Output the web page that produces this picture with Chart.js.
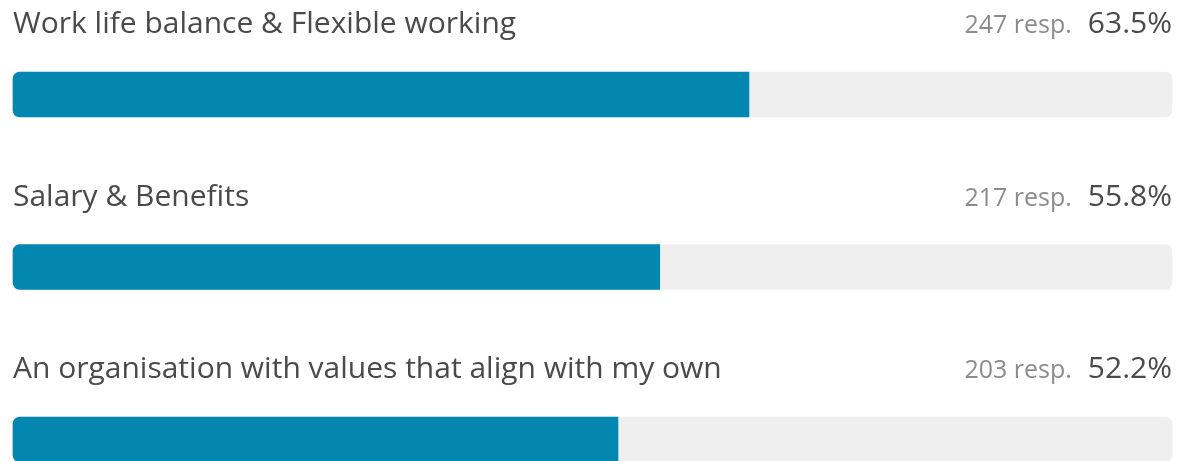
<!DOCTYPE html>
<html>
<head>
<meta charset="utf-8">
<script src="https://cdn.jsdelivr.net/npm/chart.js@4"></script>
<style>
  html, body { margin: 0; padding: 0; background: #fff; overflow: hidden; }
  #wrap { width: 1178px; height: 461px; position: relative; }
</style>
</head>
<body>
<div id="wrap"><canvas id="chart"></canvas></div>
<script>
const categories = [
  "Work life balance & Flexible working",
  "Salary & Benefits",
  "An organisation with values that align with my own",
];
const responses = [247, 217, 203];
const percents = [63.5, 55.8, 52.2];
const trackValues = [100, 100, 100];

const FONT = "'Open Sans', 'Noto Sans', sans-serif";

// question text on the left, response count and share on the right
const rowLabels = {
  id: "rowLabels",
  afterDatasetsDraw(chart) {
    const ctx = chart.ctx;
    const area = chart.chartArea;
    const bars = chart.getDatasetMeta(1).data;
    ctx.save();
    ctx.textBaseline = "alphabetic";
    bars.forEach((bar, i) => {
      const y = bar.y - 61.5;
      ctx.font = "30px " + FONT;
      ctx.fillStyle = "#4a4a4a";
      ctx.textAlign = "left";
      ctx.fillText(categories[i], area.left, y);
      ctx.textAlign = "right";
      const pct = percents[i].toFixed(1) + "%";
      ctx.fillText(pct, area.right, y);
      const pctW = ctx.measureText(pct).width;
      ctx.font = "25px " + FONT;
      ctx.fillStyle = "#8c8c8c";
      ctx.fillText(responses[i] + " resp.", area.right - pctW - 16, y);
    });
    ctx.restore();
  },
};

new Chart(document.getElementById("chart"), {
  type: "bar",
  data: {
    labels: categories,
    datasets: [
      {
        data: trackValues,
        backgroundColor: "#efefef",
        borderRadius: 7,
        borderSkipped: false,
        barThickness: 45,
        grouped: false,
        order: 2,
        clip: false,
      },
      {
        data: percents,
        backgroundColor: "#0387b0",
        borderRadius: { topLeft: 7, bottomLeft: 7, topRight: 0, bottomRight: 0 },
        borderSkipped: false,
        barThickness: 45,
        grouped: false,
        order: 1,
        clip: false,
      },
    ],
  },
  options: {
    indexAxis: "y",
    responsive: true,
    maintainAspectRatio: false,
    animation: false,
    layout: { padding: { top: 94.5, bottom: 21.5, left: 13, right: 6 } },
    scales: {
      x: { display: false, min: 0, max: 100 },
      y: { display: false, offset: false },
    },
    plugins: {
      legend: { display: false },
      tooltip: { enabled: false },
    },
  },
  plugins: [rowLabels],
});
</script>
</body>
</html>
